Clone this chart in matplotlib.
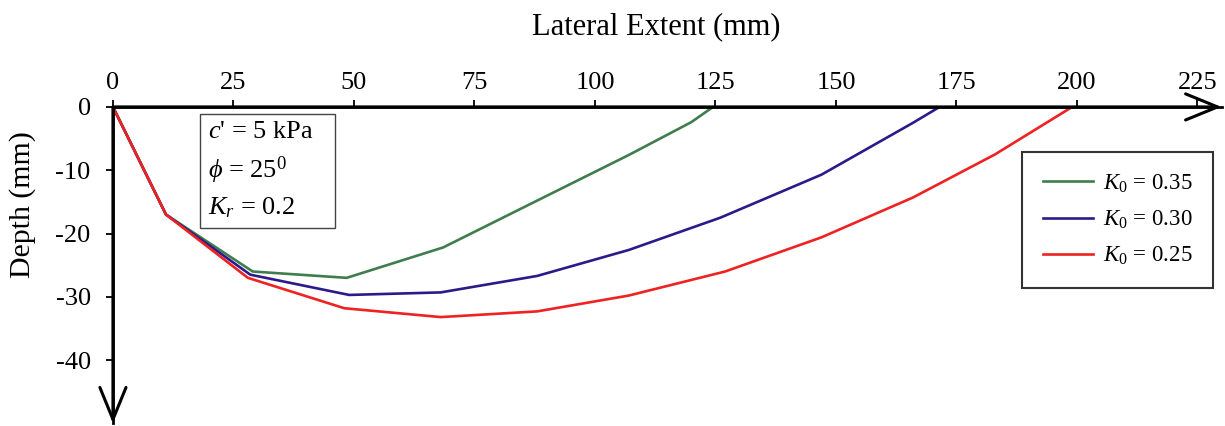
import matplotlib
matplotlib.use('Agg')
import matplotlib.pyplot as plt

# Data
x_035 = [0, 11, 29, 48.5, 68.5, 88, 107, 120, 124.5]
y_035 = [0, -17, -26, -27, -22.2, -14.8, -7.6, -2.4, 0]

x_030 = [0, 11, 28.5, 49, 68, 88, 107, 126, 147, 166, 171.5]
y_030 = [0, -17, -26.5, -29.7, -29.3, -26.7, -22.6, -17.5, -10.7, -2.5, 0]

x_025 = [0, 11, 28, 48, 68, 88, 107, 127, 147, 166, 183, 199]
y_025 = [0, -17, -27, -31.8, -33.2, -32.3, -29.8, -26, -20.6, -14.3, -7.5, 0]

x_ticks = [0, 25, 50, 75, 100, 125, 150, 175, 200, 225]
y_ticks = [0, -10, -20, -30, -40]
labels = [r'$K_{\mathit{0}}$ = 0.35', r'$K_{\mathit{0}}$ = 0.30', r'$K_{\mathit{0}}$ = 0.25']
colors = ['#3f7d4e', '#2c1a8a', '#ee2222']

plt.rcParams['font.family'] = ['Liberation Serif', 'DejaVu Serif']
plt.rcParams['mathtext.fontset'] = 'custom'
plt.rcParams['mathtext.rm'] = 'Liberation Serif'
plt.rcParams['mathtext.it'] = 'Liberation Serif:italic'
plt.rcParams['axes.unicode_minus'] = False

fig = plt.figure(figsize=(12.25, 4.26), dpi=100)
ax = fig.add_axes([0.0922, 0.006, 0.905, 0.743])

for xs, ys, lab, col in zip([x_035, x_030, x_025], [y_035, y_030, y_025], labels, colors):
    ax.plot(xs, ys, color=col, lw=1.9, label=lab)

ax.set_xlim(0, 230)
ax.set_ylim(-50, 0)
ax.set_xticks(x_ticks)
ax.set_yticks(y_ticks)
ax.xaxis.tick_top()
ax.tick_params(axis='both', labelsize=19, width=1.3, length=5, direction='out')
ax.tick_params(axis='x', pad=4)
ax.tick_params(axis='y', pad=11)

for s in ['right', 'bottom']:
    ax.spines[s].set_visible(False)
ax.spines['top'].set_linewidth(2)
ax.spines['left'].set_linewidth(2)

# axis arrows
arrow_style = dict(arrowstyle='->, head_length=1.15, head_width=0.47',
                   lw=2.2, color='black', shrinkA=0, shrinkB=0, mutation_scale=20)
ax.annotate('', xy=(1, 1), xytext=(0, 1), xycoords='axes fraction',
            arrowprops=arrow_style, annotation_clip=False)
ax.annotate('', xy=(0, 0), xytext=(0, 1), xycoords='axes fraction',
            arrowprops=arrow_style, annotation_clip=False)

ax.set_xlabel('Lateral Extent (mm)', fontsize=22)
ax.xaxis.set_label_position('top')
ax.xaxis.set_label_coords(0.49, 1.23)
ax.set_ylabel('Depth (mm)', fontsize=21.5)
ax.yaxis.set_label_coords(-0.069, 0.69)

ax.text(19.8, -2.2, "$c$' = 5 kPa   \n$\\phi$ = 25$^0$\n$K_r$ = 0.2",
        fontsize=19, va='top', ha='left', linespacing=1.5,
        bbox=dict(boxstyle='square,pad=0.3', fc='white', ec='#444444', lw=1))

leg = ax.legend(loc='upper right', bbox_to_anchor=(0.992, 0.858), fontsize=16.5,
                frameon=True, fancybox=False, handlelength=2.2,
                borderpad=0.9, labelspacing=0.6, handletextpad=0.4,
                borderaxespad=0)
leg.get_frame().set_edgecolor('black')
leg.get_frame().set_linewidth(1.5)

plt.savefig('out.png', dpi=100)
